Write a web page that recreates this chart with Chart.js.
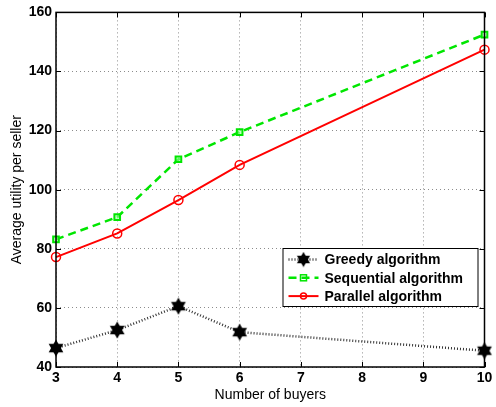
<!DOCTYPE html>
<html>
<head>
<meta charset="utf-8">
<script src="https://cdn.jsdelivr.net/npm/chart.js@4.4.0/dist/chart.umd.min.js"></script>
<style>
  html, body { margin: 0; padding: 0; background: #fff; }
  #chart { display: block; }
</style>
</head>
<body>
<canvas id="chart" width="496" height="407"></canvas>
<script>
// values
const buyers = [3, 4, 5, 6, 10];
const greedy = [46.4, 52.5, 60.6, 51.8, 45.5];
const sequential = [83.2, 90.7, 110.3, 119.5, 152.5];
const parallel = [77.2, 85.2, 96.5, 108.4, 147.4];
const seriesNames = ["Greedy algorithm", "Sequential algorithm", "Parallel algorithm"];
const yTicks = [40, 60, 80, 100, 120, 140, 160];
const xTicks = [3, 4, 5, 6, 7, 8, 9, 10];

const toPoints = (ys) => buyers.map((x, i) => ({ x: x, y: ys[i] }));

// filled six-point star (MATLAB 'h' marker)
const hexagram = (() => {
  const c = document.createElement("canvas");
  c.width = 18;
  c.height = 18;
  const g = c.getContext("2d");
  const cx = 9, cy = 9, r = 8.5;
  g.fillStyle = "#000";
  [-Math.PI / 2, Math.PI / 2].forEach((a0) => {
    g.beginPath();
    for (let k = 0; k < 3; k++) {
      const a = a0 + k * 2 * Math.PI / 3;
      const px = cx + r * Math.cos(a), py = cy + r * Math.sin(a);
      if (k === 0) g.moveTo(px, py); else g.lineTo(px, py);
    }
    g.closePath();
    g.fill();
  });
  return c;
})();

const FONT = "'Liberation Sans', Arial, Helvetica, sans-serif";

// box around the plot with inward tick marks on all four sides
const boxPlugin = {
  id: "box",
  afterDatasetsDraw(chart) {
    const { ctx, chartArea: a, scales } = chart;
    ctx.save();
    ctx.strokeStyle = "#000";
    ctx.lineWidth = 1;
    ctx.beginPath();
    scales.x.ticks.forEach((t) => {
      const px = Math.round(scales.x.getPixelForValue(t.value)) + 0.5;
      ctx.moveTo(px, a.bottom); ctx.lineTo(px, a.bottom - 5);
      ctx.moveTo(px, a.top); ctx.lineTo(px, a.top + 5);
    });
    scales.y.ticks.forEach((t) => {
      const py = Math.round(scales.y.getPixelForValue(t.value)) + 0.5;
      ctx.moveTo(a.left, py); ctx.lineTo(a.left + 5, py);
      ctx.moveTo(a.right, py); ctx.lineTo(a.right - 5, py);
    });
    ctx.stroke();
    ctx.lineWidth = 1.5;
    ctx.strokeRect(a.left, a.top, a.right - a.left, a.bottom - a.top);
    ctx.restore();
  },
  afterDraw(chart) {
    // legend box in the lower right, like the MATLAB one
    const { ctx, chartArea: a } = chart;
    const w = 195, h = 58;
    const x0 = a.right - 7 - w;
    const y0 = 248;
    ctx.save();
    ctx.fillStyle = "#fff";
    ctx.fillRect(x0, y0, w, h);
    ctx.strokeStyle = "#000";
    ctx.lineWidth = 1;
    ctx.strokeRect(x0 + 0.5, y0 + 0.5, w, h);
    ctx.font = "bold 14px " + FONT;
    ctx.textBaseline = "middle";
    chart.data.datasets.forEach((ds, i) => {
      const yy = y0 + 11.5 + i * 18.3;
      ctx.strokeStyle = ds.borderColor;
      ctx.lineWidth = ds.borderWidth;
      ctx.setLineDash(ds.borderDash || []);
      ctx.beginPath();
      ctx.moveTo(x0 + 6, yy);
      ctx.lineTo(x0 + 36, yy);
      ctx.stroke();
      ctx.setLineDash([]);
      const mx = x0 + 21;
      if (ds.pointStyle === "circle") {
        ctx.lineWidth = 1.5;
        ctx.beginPath();
        ctx.arc(mx, yy, 3, 0, Math.PI * 2);
        ctx.stroke();
      } else if (ds.pointStyle === "rect") {
        ctx.lineWidth = 1.5;
        ctx.strokeRect(mx - 3, yy - 3, 6, 6);
      } else {
        ctx.drawImage(ds.pointStyle, mx - 8, yy - 8, 16, 16);
      }
      ctx.fillStyle = "#000";
      ctx.fillText(ds.label, x0 + 42, yy + 1);
    });
    ctx.restore();
  },
};

new Chart(document.getElementById("chart"), {
  type: "line",
  data: {
    datasets: [
      {
        label: seriesNames[0],
        data: toPoints(greedy),
        borderColor: "#333",
        borderWidth: 2.5,
        borderDash: [1, 2],
        pointStyle: hexagram,
        pointRadius: 9,
        clip: false,
      },
      {
        label: seriesNames[1],
        data: toPoints(sequential),
        borderColor: "#00e600",
        backgroundColor: "rgba(0,0,0,0)",
        borderWidth: 2.5,
        borderDash: [8, 5],
        pointStyle: "rect",
        pointRadius: 4,
        pointBorderWidth: 2,
        pointBackgroundColor: "rgba(150,255,150,0.6)",
        clip: false,
      },
      {
        label: seriesNames[2],
        data: toPoints(parallel),
        borderColor: "#ff0000",
        backgroundColor: "rgba(0,0,0,0)",
        borderWidth: 2,
        pointStyle: "circle",
        pointRadius: 4.5,
        pointBorderWidth: 1.5,
        pointBackgroundColor: "rgba(0,0,0,0)",
        clip: false,
      },
    ],
  },
  options: {
    responsive: false,
    animation: false,
    devicePixelRatio: 1,
    layout: { padding: { top: 11, right: 7, left: 0, bottom: 0 } },
    plugins: {
      legend: { display: false },
      tooltip: { enabled: false },
    },
    elements: { line: { tension: 0 } },
    scales: {
      x: {
        type: "linear",
        min: 3,
        max: 10,
        afterBuildTicks: (s) => { s.ticks = xTicks.map((v) => ({ value: v })); },
        afterFit: (s) => { s.height = 40; },
        ticks: {
          color: "#000",
          font: { family: FONT, size: 14, weight: "bold" },
          padding: 3,
        },
        grid: { color: "rgba(0,0,0,0.45)", lineWidth: 1, drawTicks: false },
        border: { display: false, dash: [1, 3] },
        title: {
          display: true,
          text: "Number of buyers",
          color: "#000",
          font: { family: FONT, size: 14 },
          padding: { top: 0, bottom: 3 },
        },
      },
      y: {
        min: 40,
        max: 160,
        afterBuildTicks: (s) => { s.ticks = yTicks.map((v) => ({ value: v })); },
        afterFit: (s) => { s.width = 56; },
        ticks: {
          color: "#000",
          font: { family: FONT, size: 14, weight: "bold" },
          padding: 4,
        },
        grid: { color: "rgba(0,0,0,0.45)", lineWidth: 1, drawTicks: false },
        border: { display: false, dash: [1, 3] },
        title: {
          display: true,
          text: "Average utility per seller",
          color: "#000",
          font: { family: FONT, size: 14 },
          padding: { top: 9, bottom: 0 },
        },
      },
    },
  },
  plugins: [boxPlugin],
});
</script>
</body>
</html>
